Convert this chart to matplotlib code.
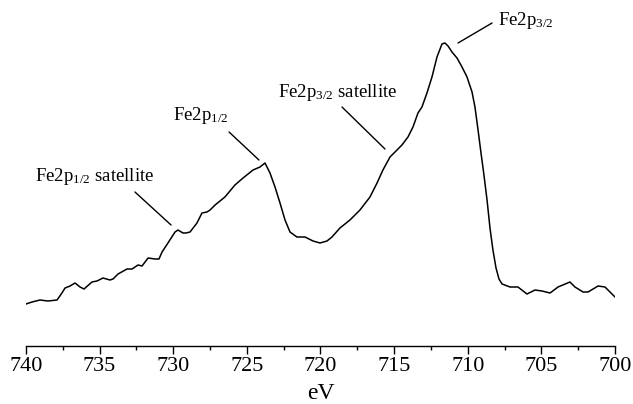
import matplotlib
matplotlib.use("Agg")
import matplotlib.pyplot as plt
from matplotlib.ticker import MultipleLocator

plt.rcParams['font.family'] = ['Liberation Serif', 'DejaVu Serif']
plt.rcParams['mathtext.fontset'] = 'custom'
plt.rcParams['mathtext.rm'] = 'Liberation Serif'
plt.rcParams['mathtext.it'] = 'Liberation Serif:italic'

# binding energy (eV) and intensity (a.u.)
energy = [740.00, 739.59, 739.05, 738.51, 737.89, 737.56, 737.35, 737.01, 736.67, 736.33,
          736.06, 735.52, 735.18, 734.77, 734.30, 734.09, 733.75, 733.14, 732.80, 732.39,
          732.12, 731.71, 731.24, 730.97, 730.76, 730.36, 729.88, 729.68, 729.34, 729.13,
          728.86, 728.39, 728.05, 727.71, 727.50, 727.16, 726.49, 725.81, 725.26, 724.58,
          724.11, 723.77, 723.43, 723.09, 722.75, 722.41, 722.07, 721.60, 721.05, 720.51,
          720.03, 719.56, 719.22, 718.68, 718.00, 717.32, 716.64, 716.16, 715.76, 715.28,
          714.94, 714.47, 714.06, 713.72, 713.38, 713.11, 712.77, 712.43, 712.09, 711.75,
          711.55, 711.34, 711.07, 710.73, 710.39, 710.05, 709.71, 709.51, 709.30, 709.10,
          708.90, 708.69, 708.49, 708.29, 708.08, 707.88, 707.67, 707.13, 706.59, 705.98,
          705.43, 704.96, 704.41, 703.87, 703.06, 702.72, 702.17, 701.83, 701.15, 700.68,
          700.00]
intensity = [42, 44, 46, 45, 46, 53, 58, 60, 63, 59,
             57, 64, 65, 68, 66, 67, 72, 77, 77, 81,
             80, 88, 87, 87, 94, 103, 114, 116, 113, 113,
             114, 123, 133, 134, 136, 141, 149, 161, 168, 176,
             179, 183, 173, 159, 143, 126, 114, 109, 109, 105,
             103, 105, 109, 118, 126, 136, 149, 163, 176, 189,
             194, 201, 209, 219, 233, 239, 253, 269, 289, 302,
             303, 300, 294, 288, 279, 269, 254, 239, 216, 193,
             171, 146, 118, 96, 78, 67, 62, 59, 59, 52,
             56, 55, 53, 59, 64, 59, 54, 54, 60, 59,
             49]

# peak labels: text, text anchor (eV, a.u.), leader line start and end
labels = [r'Fe2p$_{1/2}$ satellite', r'Fe2p$_{1/2}$', r'Fe2p$_{3/2}$ satellite', r'Fe2p$_{3/2}$']
label_pos = [(739.39, 165), (730.02, 226), (722.89, 249), (707.95, 321)]
leader_from = [(732.60, 154), (726.21, 214), (718.54, 239), (708.35, 323)]
leader_to = [(730.15, 121), (724.18, 186), (715.62, 197), (710.66, 303)]

fig = plt.figure(figsize=(6.33, 4.04), dpi=100)
ax = fig.add_axes([26 / 633, 58 / 404, 589 / 633, 346 / 404])

ax.plot(energy, intensity, color='black', lw=1.1)

for txt, pos, p0, p1 in zip(labels, label_pos, leader_from, leader_to):
    ax.annotate('', xy=p1, xytext=p0,
                arrowprops=dict(arrowstyle='-', lw=1.0, color='black', shrinkA=0, shrinkB=0))
    ax.text(pos[0], pos[1], txt, fontsize=13.5, ha='left', va='baseline')

ax.set_xlim(740, 700)
ax.set_ylim(0, 346)
ax.xaxis.set_major_locator(MultipleLocator(5))
ax.xaxis.set_minor_locator(MultipleLocator(2.5))
ax.tick_params(axis='x', which='major', direction='out', length=6, width=1, labelsize=16, pad=2)
ax.tick_params(axis='x', which='minor', direction='out', length=3, width=1)
ax.set_yticks([])
for side in ['left', 'right', 'top']:
    ax.spines[side].set_visible(False)
ax.spines['bottom'].set_linewidth(1)
ax.set_xlabel('eV', fontsize=17, labelpad=5)

fig.savefig('out.png', dpi=100)
